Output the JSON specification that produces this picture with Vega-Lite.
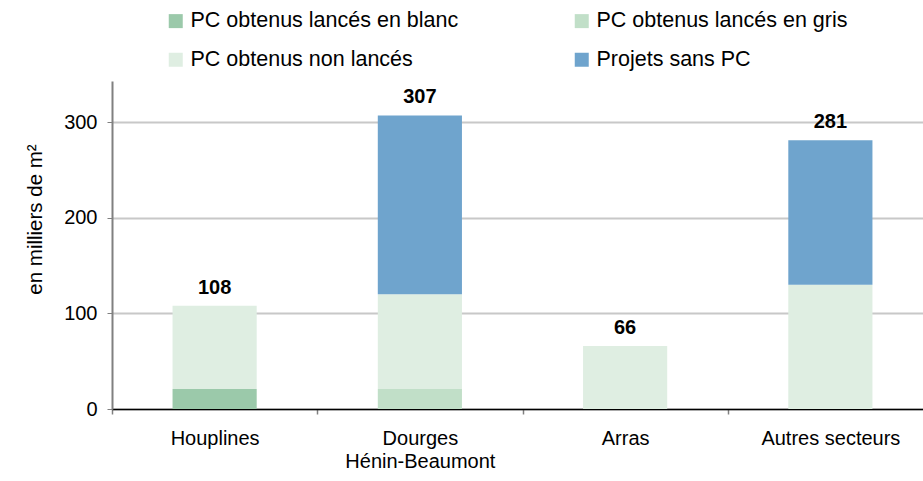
{
  "$schema": "https://vega.github.io/schema/vega-lite/v6.json",
  "autosize": "none",
  "width": 811,
  "height": 328,
  "padding": {"left": 112, "top": 81, "right": 0, "bottom": 72},
  "config": {
    "font": "Liberation Sans",
    "view": {"stroke": null},
    "axis": {"labelFont": "Liberation Sans", "titleFont": "Liberation Sans"}
  },
  "layer": [
    {
      "data": {
        "values": [
          {"secteur": "Houplines", "serie": "PC obtenus lancés en blanc", "ord": 1, "valeur": 21},
          {"secteur": "Houplines", "serie": "PC obtenus non lancés", "ord": 3, "valeur": 87},
          {"secteur": "Dourges", "serie": "PC obtenus lancés en gris", "ord": 2, "valeur": 21},
          {"secteur": "Dourges", "serie": "PC obtenus non lancés", "ord": 3, "valeur": 99},
          {"secteur": "Dourges", "serie": "Projets sans PC", "ord": 4, "valeur": 187},
          {"secteur": "Arras", "serie": "PC obtenus non lancés", "ord": 3, "valeur": 66},
          {"secteur": "Autres secteurs", "serie": "PC obtenus non lancés", "ord": 3, "valeur": 130},
          {"secteur": "Autres secteurs", "serie": "Projets sans PC", "ord": 4, "valeur": 151}
        ]
      },
      "mark": {"type": "bar"},
      "encoding": {
        "x": {
          "field": "secteur",
          "type": "nominal",
          "sort": ["Houplines", "Dourges", "Arras", "Autres secteurs"],
          "scale": {"range": [0, 821], "paddingInner": 0.59, "paddingOuter": 0.295},
          "axis": {
            "title": null,
            "labelAngle": 0,
            "labelFontSize": 20,
            "labelColor": "#000000",
            "labelPadding": 14,
            "labelLineHeight": 23,
            "labelOffset": 102.6,
            "labelExpr": "datum.value == 'Dourges' ? ['Dourges', 'Hénin-Beaumont'] : datum.value",
            "tickOffset": -102.6,
            "tickSize": 5,
            "tickColor": "#808080",
            "tickWidth": 1.5,
            "domainColor": "#000000",
            "domainWidth": 1.5,
            "grid": false
          }
        },
        "y": {
          "field": "valeur",
          "type": "quantitative",
          "stack": "zero",
          "scale": {"domain": [0, 343], "nice": false},
          "axis": {
            "title": "en milliers de m²",
            "titleFontSize": 20.5,
            "titleFontWeight": "normal",
            "titleColor": "#000000",
            "titlePadding": 18,
            "titleY": 138,
            "values": [0, 100, 200, 300],
            "labelFontSize": 20,
            "labelColor": "#000000",
            "labelPadding": 10,
            "tickSize": 5,
            "tickColor": "#808080",
            "domainColor": "#808080",
            "domainWidth": 2,
            "gridColor": "#C8C8C8",
            "gridWidth": 2
          }
        },
        "color": {
          "field": "serie",
          "type": "nominal",
          "scale": {
            "domain": ["PC obtenus lancés en blanc", "PC obtenus lancés en gris", "PC obtenus non lancés", "Projets sans PC"],
            "range": ["#9BC9AA", "#C1DFC8", "#DFEEE2", "#6FA4CD"]
          },
          "legend": {
            "title": null,
            "orient": "none",
            "direction": "horizontal",
            "legendX": 53,
            "legendY": -71,
            "columns": 2,
            "columnPadding": 112,
            "rowPadding": 16,
            "symbolType": "square",
            "symbolSize": 196,
            "symbolStrokeWidth": 0,
            "labelFontSize": 21.5,
            "labelColor": "#000000",
            "labelOffset": 4,
            "labelLimit": 400
          }
        },
        "order": {"field": "ord", "type": "quantitative"}
      }
    },
    {
      "data": {
        "values": [
          {"secteur": "Houplines", "total": 108},
          {"secteur": "Dourges", "total": 307},
          {"secteur": "Arras", "total": 66},
          {"secteur": "Autres secteurs", "total": 281}
        ]
      },
      "mark": {"type": "text", "fontSize": 20, "fontWeight": "bold", "baseline": "bottom", "dy": -8, "color": "#000000"},
      "encoding": {
        "x": {"field": "secteur", "type": "nominal", "sort": ["Houplines", "Dourges", "Arras", "Autres secteurs"]},
        "y": {"field": "total", "type": "quantitative"},
        "text": {"field": "total", "type": "quantitative"}
      }
    }
  ]
}
